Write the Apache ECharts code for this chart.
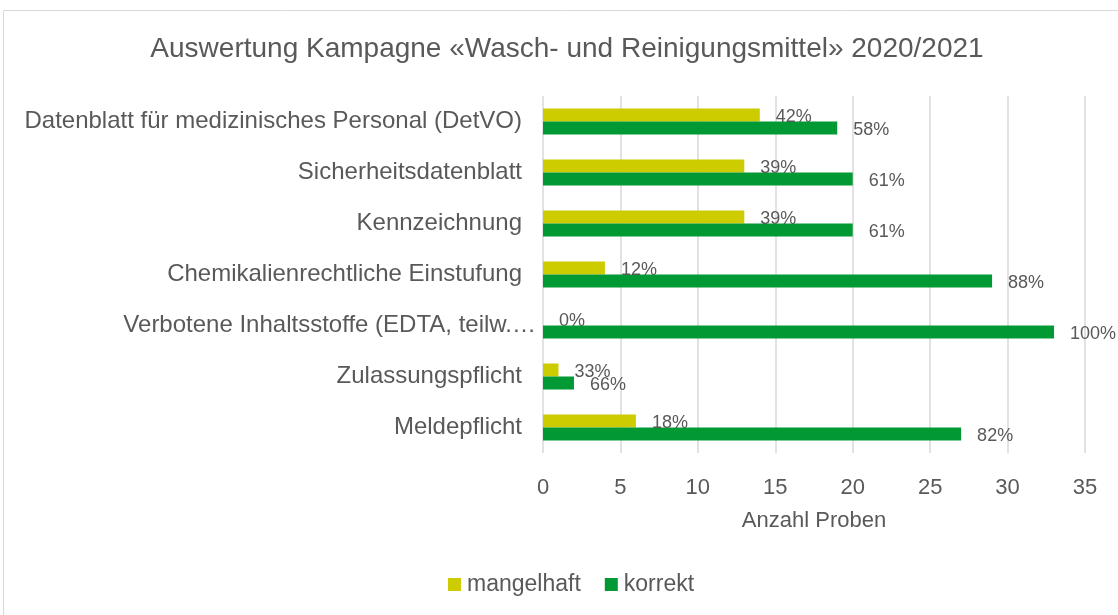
<!DOCTYPE html>
<html>
<head>
<meta charset="utf-8">
<script src="https://cdn.jsdelivr.net/npm/echarts@6/dist/echarts.min.js"></script>
<style>
  html, body { margin: 0; padding: 0; background: #fff; }
  #main { width: 1118px; height: 615px; }
</style>
</head>
<body>
<div id="main"></div>
<script>
// Daten aus der Grafik
var kategorien = [
  'Datenblatt für medizinisches Personal (DetVO)',
  'Sicherheitsdatenblatt',
  'Kennzeichnung',
  'Chemikalienrechtliche Einstufung',
  'Verbotene Inhaltsstoffe (EDTA, teilw.…',
  'Zulassungspflicht',
  'Meldepflicht'
]
var mangelhaft = [14, 13, 13, 4, 0, 1, 6]
var korrekt = [19, 20, 20, 29, 33, 2, 27]
var mangelhaftProzent = ['42%', '39%', '39%', '12%', '0%', '33%', '18%']
var korrektProzent = ['58%', '61%', '61%', '88%', '100%', '66%', '82%']
var xTicks = [0, 5, 10, 15, 20, 25, 30, 35]

var schrift = '"Liberation Sans", Arial, sans-serif'
var grau = '#595959'

var chart = echarts.init(document.getElementById('main'))

var option = {
  animation: false,
  textStyle: { fontFamily: schrift },
  title: {
    text: 'Auswertung Kampagne «Wasch- und Reinigungsmittel» 2020/2021',
    left: 567,
    top: 35,
    textAlign: 'center',
    padding: 0,
    textStyle: { fontSize: 28, fontWeight: 'normal', color: grau, fontFamily: schrift }
  },
  legend: {
    data: ['mangelhaft', 'korrekt'],
    left: 448,
    top: 573,
    padding: 0,
    icon: 'rect',
    itemWidth: 13,
    itemHeight: 13,
    itemGap: 24,
    textStyle: { fontSize: 23, color: grau, fontFamily: schrift, padding: [0, 0, 0, 1] }
  },
  graphic: [{
    type: 'rect',
    shape: { x: 3.5, y: 10.5, width: 1300, height: 800 },
    style: { fill: 'none', stroke: '#d9d9d9', lineWidth: 1 },
    silent: true
  }],
  grid: { left: 543, right: 33, top: 96, height: 357, containLabel: false },
  xAxis: {
    type: 'value',
    min: 0,
    max: 35,
    interval: 5,
    name: 'Anzahl Proben',
    nameLocation: 'middle',
    nameGap: 57,
    nameTextStyle: { fontSize: 22, color: grau, fontFamily: schrift },
    axisLine: { show: false },
    axisTick: { show: false },
    axisLabel: {
      fontSize: 22, color: grau, margin: 24, fontFamily: schrift,
      formatter: function (v) { return xTicks.indexOf(v) >= 0 ? String(v) : '' }
    },
    splitLine: { show: true, lineStyle: { color: '#d9d9d9', width: 1.5 } }
  },
  yAxis: {
    type: 'category',
    data: kategorien,
    inverse: true,
    axisLine: { show: false },
    axisTick: { show: false },
    axisLabel: {
      fontSize: 24, color: grau, margin: 21, fontFamily: schrift,
      // der abgeschnittene Text ragt im Original etwas weiter nach rechts
      formatter: function (v) { return v.indexOf('Verbotene') === 0 ? '{lang|' + v + '}' : v },
      rich: { lang: { fontSize: 24, color: grau, fontFamily: schrift, padding: [0, -14, 0, 0] } }
    }
  },
  series: [
    {
      name: 'mangelhaft',
      type: 'bar',
      data: mangelhaft,
      barWidth: 13,
      barGap: '0%',
      itemStyle: { color: '#cccc00' },
      label: {
        show: true, position: 'right', distance: 16, offset: [0, 2],
        fontSize: 18, color: grau, fontFamily: schrift,
        formatter: function (p) { return mangelhaftProzent[p.dataIndex] }
      }
    },
    {
      name: 'korrekt',
      type: 'bar',
      data: korrekt,
      barWidth: 13,
      barGap: '0%',
      itemStyle: { color: '#009933' },
      label: {
        show: true, position: 'right', distance: 16, offset: [0, 2],
        fontSize: 18, color: grau, fontFamily: schrift,
        formatter: function (p) { return korrektProzent[p.dataIndex] }
      }
    }
  ]
}

chart.setOption(option)
</script>
</body>
</html>
